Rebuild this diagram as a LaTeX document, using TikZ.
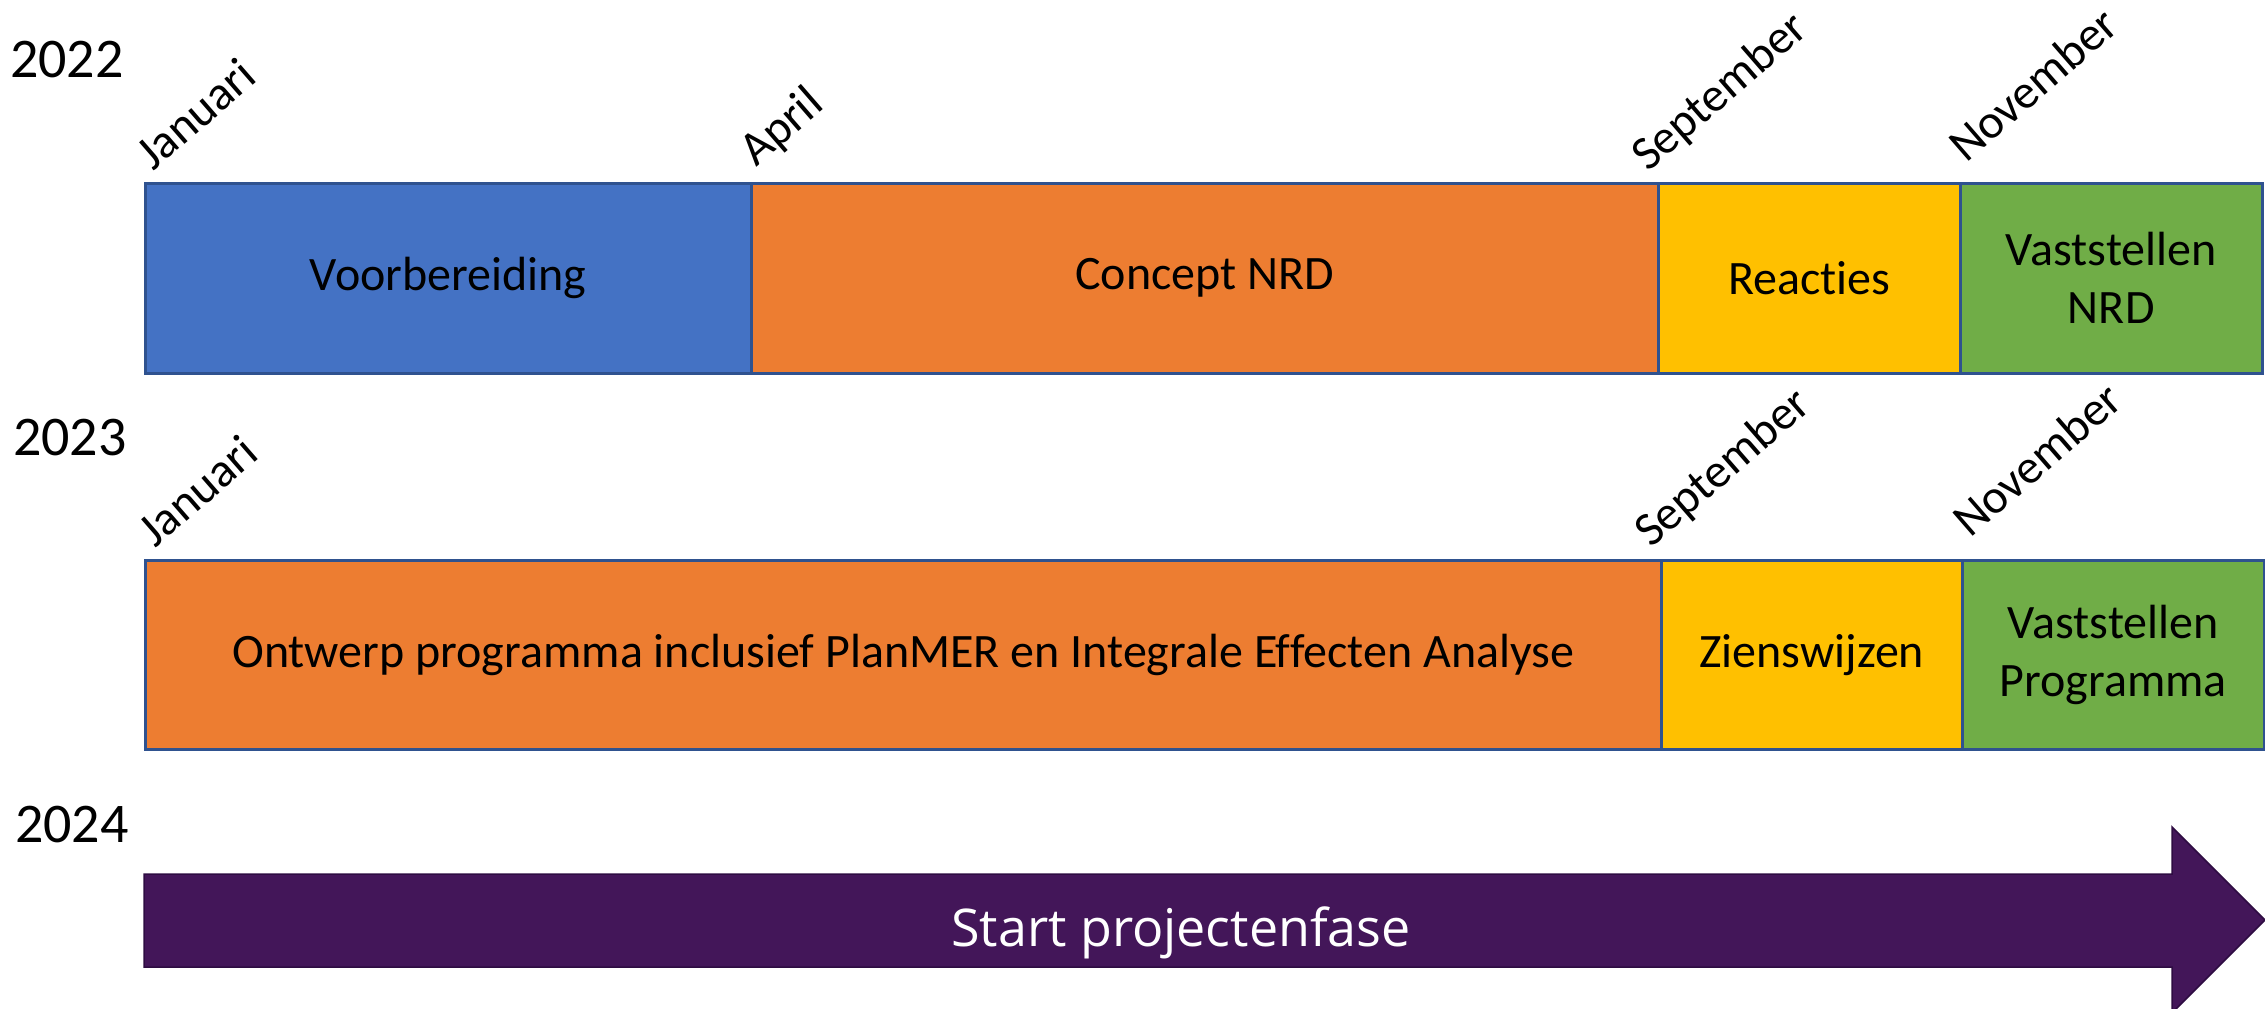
\documentclass[tikz,border=0pt]{standalone}
\usepackage{fontspec}
\setmainfont{Carlito}[Ligatures=CommonOff]
\newfontfamily\arrowfont{Open Sans}
\definecolor{boxborder}{HTML}{2F528F}
\definecolor{cblue}{HTML}{4472C4}
\definecolor{corange}{HTML}{ED7D31}
\definecolor{cyellow}{HTML}{FFC000}
\definecolor{cgreen}{HTML}{70AD47}
\definecolor{arrowfill}{HTML}{431659}
\definecolor{arrowedge}{HTML}{2E0C42}
\begin{document}
\begin{tikzpicture}[x=1pt,y=-1pt,
  phase/.style={draw=boxborder, line width=2.5pt, inner sep=0pt, anchor=north west,
    align=center, font=\fontsize{48}{58}\selectfont},
  month/.style={rotate=41, anchor=base west, inner sep=0pt, font=\fontsize{48}{58}\selectfont},
  year/.style={anchor=base west, inner sep=0pt, font=\fontsize{56}{66}\selectfont}]
\useasboundingbox (0,0) rectangle (2265,1009);

% years
\node[year] (y22) at (10,77) {2022};
\node[year] (y23) at (13,455) {2023};
\node[year] (y24) at (15,842) {2024};

% row 2022
\node[phase, fill=cblue, minimum width=606pt, minimum height=190pt] (a1) at (144,182) {Voorbereiding};
\node[phase, fill=corange, minimum width=907pt, minimum height=190pt] (a2) at (750,182) {Concept NRD};
\node[phase, fill=cyellow, minimum width=302pt, minimum height=190pt] (a3) at (1657,182) {Reacties};
\node[phase, fill=cgreen, minimum width=302pt, minimum height=190pt] (a4) at (1959,182) {Vaststellen\\NRD};

\node[month] (m1) at (153,172) {Januari};
\node[month] (m2) at (756,168) {April};
\node[month] (m3) at (1648,173) {September};
\node[month] (m4) at (1966,164) {November};

% row 2023
\node[phase, fill=corange, minimum width=1516pt, minimum height=189pt] (b1) at (144,559) {Ontwerp programma inclusief PlanMER en Integrale Effecten Analyse};
\node[phase, fill=cyellow, minimum width=301pt, minimum height=189pt] (b2) at (1660,559) {Zienswijzen};
\node[phase, fill=cgreen, minimum width=302pt, minimum height=189pt] (b3) at (1961,559) {Vaststellen\\Programma};

\node[month] (n1) at (155,549) {Januari};
\node[month] (n3) at (1651,549) {September};
\node[month] (n4) at (1970,539) {November};

% 2024 arrow
\fill[arrowfill, draw=arrowedge, line width=1.5pt]
  (144,874) -- (2172,874) -- (2172,827) -- (2265,920) -- (2172,1013) -- (2172,967) -- (144,967) -- cycle;
\node[anchor=base, inner sep=0pt, text=white, font=\arrowfont\fontsize{52}{60}\selectfont] (start) at (1181,946) {Start projectenfase};
\end{tikzpicture}
\end{document}
